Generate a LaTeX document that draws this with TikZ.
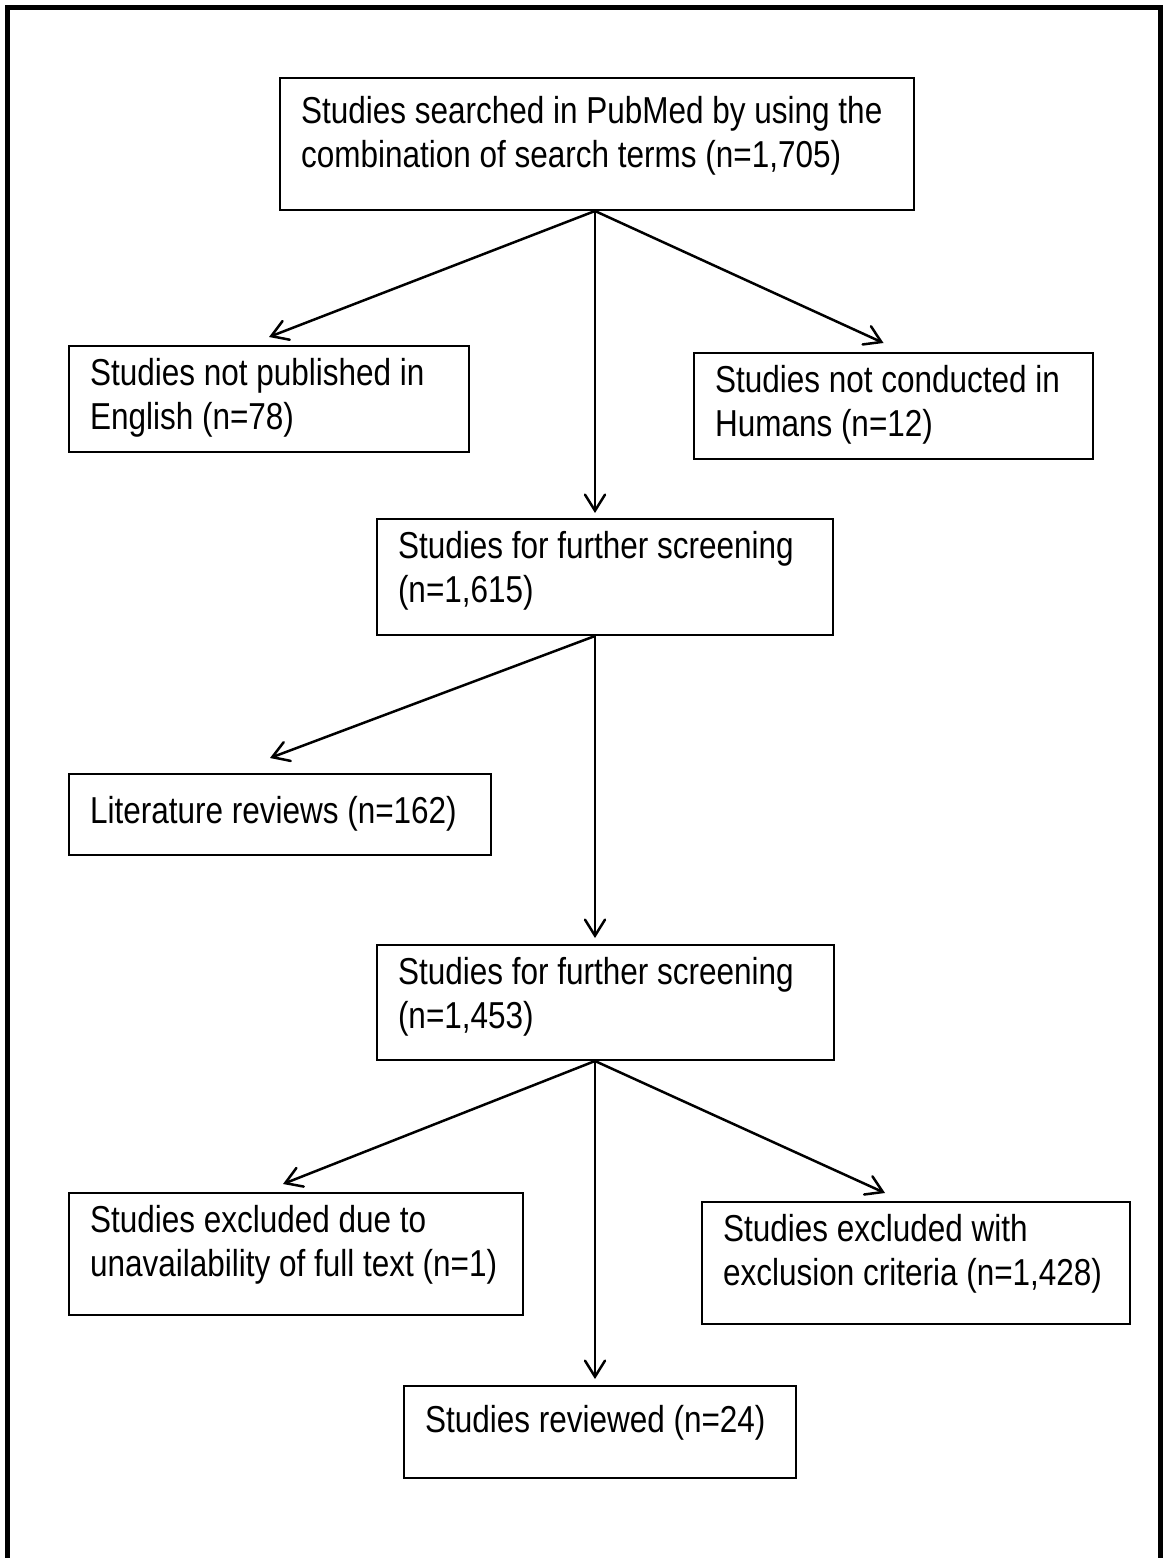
\documentclass[tikz,border=0pt]{standalone}
\usepackage{fontspec}
\setmainfont{Liberation Sans}[FakeStretch=0.84]
\usetikzlibrary{arrows.meta}
\tikzset{
	box/.style = {draw, line width=2pt, anchor=north west, align=flush left,
		inner xsep=21pt, inner ysep=0pt, text height=#1,
		font=\fontsize{37.5}{44}\selectfont},
	box/.default = 39pt,
	arr/.style = {line width=2.5pt, line cap=round,
		-{Straight Barb[length=16pt, width=20pt, line cap=round]}}
}
\begin{document}
\begin{tikzpicture}[x=1pt, y=-1pt]
\useasboundingbox (0,0) rectangle (1163,1558);
\draw[line width=5pt] (7.5,1565) -- (7.5,7.5) -- (1160.5,7.5) -- (1160.5,1565);

\coordinate (spine) at (595,0);

\node[box=45pt, text width=592pt, text depth=87pt] (search) at (279,77)
	{Studies searched in PubMed by using the\\combination of search terms (n=1,705)};
\node[box, text width=358pt, text depth=67pt] (english) at (68,345)
	{Studies not published in\\English (n=78)};
\node[box, text width=357pt, text depth=67pt] (humans) at (693,352)
	{Studies not conducted in\\Humans (n=12)};
\node[box, text width=414pt, text depth=77pt] (screenA) at (376,518)
	{Studies for further screening\\(n=1,615)};
\node[box=49pt, text width=380pt, text depth=32pt] (reviews) at (68,773)
	{Literature reviews (n=162)};
\node[box, text width=415pt, text depth=76pt] (screenB) at (376,944)
	{Studies for further screening\\(n=1,453)};
\node[box, text width=412pt, text depth=83pt] (fulltext) at (68,1192)
	{Studies excluded due to\\unavailability of full text (n=1)};
\node[box, text width=386pt, text depth=83pt] (criteria) at (701,1201)
	{Studies excluded with\\exclusion criteria (n=1,428)};
\node[box=46pt, text width=350pt, text depth=46pt] (reviewed) at (403,1385)
	{Studies reviewed (n=24)};

\draw[arr] (spine |- search.south) to ([yshift=8pt]english.north);
\draw[arr] (spine |- search.south) to ([xshift=-10pt, yshift=9pt]humans.north);
\draw[arr] (spine |- search.south) to ([yshift=5pt]spine |- screenA.north);
\draw[arr] (spine |- screenA.south) to ([xshift=-10pt, yshift=15pt]reviews.north);
\draw[arr] (spine |- screenA.south) to ([yshift=6pt]spine |- screenB.north);
\draw[arr] (spine |- screenB.south) to ([xshift=-13pt, yshift=8pt]fulltext.north);
\draw[arr] (spine |- screenB.south) to ([xshift=-31pt, yshift=8pt]criteria.north);
\draw[arr] (spine |- screenB.south) to ([yshift=6pt]spine |- reviewed.north);
\end{tikzpicture}
\end{document}
